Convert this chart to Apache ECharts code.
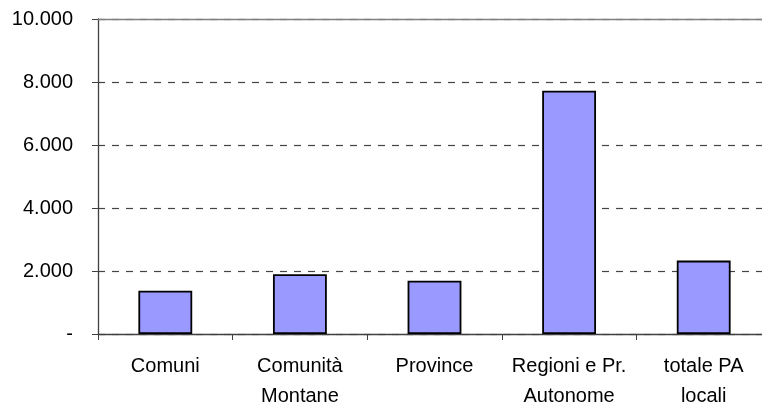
<!DOCTYPE html>
<html>
<head>
<meta charset="utf-8">
<style>
  html, body { margin: 0; padding: 0; background: #fff; overflow: hidden; }
  /* l'area del grafico nell'originale esce oltre il bordo destro */
  #bar { width: 771px; height: 406px; }
</style>
<script src="https://cdn.jsdelivr.net/npm/echarts@6/dist/echarts.min.js"></script>
</head>
<body>
<div id="bar"></div>
<script>
// dati
const categories = ["Comuni", "Comunità\nMontane", "Province", "Regioni e Pr.\nAutonome", "totale PA\nlocali"];
const values = [1375, 1895, 1690, 7725, 2330];
const yTicks = [0, 2000, 4000, 6000, 8000, 10000];

(function () {
  let dom = document.querySelector("#bar");
  let myChart = echarts.init(dom);
  const font = "'Liberation Sans', Arial, sans-serif";
  // formato italiano: punto come separatore delle migliaia, "-" per lo zero
  const fmt = (v) => (v === 0 ? "-" : String(v).replace(/\B(?=(\d{3})+(?!\d))/g, "."));
  let options = {
    animation: false,
    grid: {
      left: 98,
      top: 19,
      right: 0,
      bottom: 72,
      outerBoundsMode: "none",
    },
    xAxis: [
      {
        type: "category",
        data: categories,
        axisTick: { show: true, length: 6, lineStyle: { color: "#404040" } },
        axisLine: { lineStyle: { color: "#404040", width: 1.3 } },
        axisLabel: {
          color: "#000",
          fontFamily: font,
          fontSize: 20,
          lineHeight: 30,
          margin: 17,
          interval: 0,
        },
      },
      {
        // bordo superiore dell'area del grafico
        type: "category",
        position: "top",
        data: categories,
        axisTick: { show: false },
        axisLabel: { show: false },
        axisLine: { lineStyle: { color: "#808080", width: 1.3 } },
      },
    ],
    yAxis: [
      {
        type: "value",
        min: yTicks[0],
        max: yTicks[yTicks.length - 1],
        interval: 2000,
        axisLine: { show: true, lineStyle: { color: "#404040", width: 1.3 } },
        axisTick: { show: true, length: 6, lineStyle: { color: "#404040" } },
        axisLabel: {
          color: "#000",
          fontFamily: font,
          fontSize: 20,
          margin: 25,
          formatter: fmt,
        },
        splitLine: {
          lineStyle: { color: "#444", type: [7, 7], width: 1.2 },
        },
      },
    ],
    series: [
      {
        type: "bar",
        data: values,
        barWidth: "40%",
        itemStyle: {
          color: "#9999FF",
          borderColor: "#000",
          borderWidth: 1.8,
        },
      },
    ],
  };
  myChart.setOption(options);
  window.addEventListener("resize", () => {
    myChart.resize();
  });
})();
</script>
</body>
</html>
